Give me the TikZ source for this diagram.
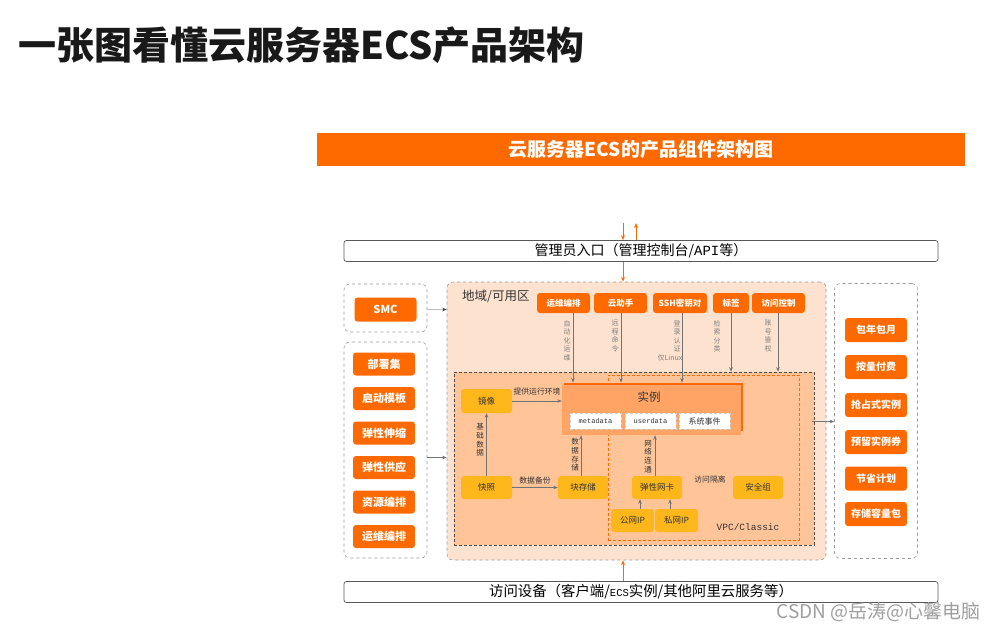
\documentclass[tikz,border=0pt]{standalone}
\usepackage{fontspec}
\setmainfont{Noto Sans CJK SC}
\setmonofont{Liberation Mono}
\usetikzlibrary{arrows.meta}
\definecolor{ora}{HTML}{FF6A00}
\definecolor{peach}{HTML}{FDE3CF}
\definecolor{innerp}{HTML}{FFC599}
\definecolor{instf}{HTML}{FFA464}
\definecolor{yel}{HTML}{FDB71A}
\definecolor{txt}{HTML}{333333}
\definecolor{lab}{HTML}{7F7F7F}
\tikzset{
  fs/.style={font=\fontsize{#1}{#1}\selectfont},
  obtn/.style={fill=ora, rounded corners=3, text=white, inner sep=0pt, font=\bfseries\fontsize{#1}{#1}\selectfont},
  ybox/.style={fill=yel, rounded corners=3, text=txt, inner sep=0pt, font=\fontsize{8.5}{8.5}\selectfont},
  dgroup/.style={draw=gray!80, dashed, rounded corners=6, line width=0.6pt},
  arr/.style={draw=gray!90!black, line width=0.6pt, -{Stealth[length=4.5pt,width=3.5pt]}},
  oarr/.style={draw=ora, line width=0.9pt, -{Stealth[length=5pt,width=4pt]}},
  vlab/.style={text=lab, align=center, inner sep=0pt, anchor=north, font=\fontsize{7}{8.5}\selectfont},
  elab/.style={text=txt, inner sep=0pt, font=\fontsize{7.8}{7.8}\selectfont},
  wbox/.style={fill=white, draw=gray!35, densely dashed, line width=0.4pt, inner sep=0pt, minimum width=51, minimum height=16},
}
\begin{document}
\begin{tikzpicture}[x=1pt,y=-1pt]
\useasboundingbox (0,0) rectangle (995,632);
\fill[white] (0,0) rectangle (995,632);

% title
\node[anchor=west, inner sep=0pt, font=\bfseries\fontsize{38}{38}\selectfont, text=black!90] (title) at (18,45.5) {一张图看懂云服务器ECS产品架构};

% banner
\node[fill=ora, minimum width=648, minimum height=33, inner sep=0pt, text=white, font=\bfseries\fontsize{19}{19}\selectfont] (banner) at (641,149.5) {云服务器ECS的产品组件架构图};

% admin box
\node[draw=gray!70!black, fill=white, rounded corners=2.5, line width=0.7pt, minimum width=594, minimum height=21, inner sep=0pt, fs=14] (admin) at (641,251) {管理员入口（管理控制台/{\ttfamily API}等）};
\coordinate (ta1) at (623,223);
\coordinate (ta2) at (636,223);
\draw[oarr] (ta1) -- (admin.north -| ta1);
\draw[oarr] (admin.north -| ta2) -- (ta2);

% region
\node[dgroup, fill=peach, minimum width=379, minimum height=278, inner sep=0pt] (region) at (636.5,421) {};
\node[anchor=west, inner sep=0pt, fs=12.5, text=txt] (regl) at (462,296) {地域/可用区};
\draw[oarr] (admin.south -| ta1) -- (region.north -| ta1);

% access box
\node[draw=gray!70!black, fill=white, rounded corners=2.5, line width=0.7pt, minimum width=594, minimum height=21, inner sep=0pt, fs=14.4] (access) at (641,592) {访问设备（客户端/{\ttfamily\fontsize{10.5}{10.5}\selectfont ECS}实例/其他阿里云服务等）};
\draw[oarr] (access.north -| ta1) -- (region.south -| ta1);

% SMC group
\node[dgroup, minimum width=83, minimum height=48, inner sep=0pt] (smcg) at (385.5,308) {};
\node[obtn=11, minimum width=62, minimum height=24] (smc) at (385.5,309.5) {SMC};
\draw[draw=gray!50, line width=0.9pt, -{Stealth[length=4.5pt,width=3.5pt,color=gray!50!black]}] (smcg.east |- smc) -- (region.west |- smc);

% left group
\node[dgroup, minimum width=83, minimum height=216, inner sep=0pt] (leftg) at (385.5,450) {};
\node[obtn=11, minimum width=62, minimum height=23] (l1) at (384,364) {部署集};
\node[obtn=11, minimum width=62, minimum height=23] (l2) at (384,398.5) {启动模板};
\node[obtn=11, minimum width=62, minimum height=23] (l3) at (384,433) {弹性伸缩};
\node[obtn=11, minimum width=62, minimum height=23] (l4) at (384,467.5) {弹性供应};
\node[obtn=11, minimum width=62, minimum height=23] (l5) at (384,502) {资源编排};
\node[obtn=11, minimum width=62, minimum height=23] (l6) at (384,536.5) {运维编排};
\coordinate (la) at (427,457.5);
\draw[arr] (la) -- (region.west |- la);

% right group
\node[dgroup, minimum width=83, minimum height=275, inner sep=0pt] (rightg) at (876,421) {};
\node[obtn=10, minimum width=62, minimum height=24] (r1) at (876,330) {包年包月};
\node[obtn=10, minimum width=62, minimum height=24] (r2) at (876,367) {按量付费};
\node[obtn=10, minimum width=62, minimum height=24] (r3) at (876,405) {抢占式实例};
\node[obtn=10, minimum width=62, minimum height=24] (r4) at (876,442) {预留实例券};
\node[obtn=10, minimum width=62, minimum height=24] (r5) at (876,478.5) {节省计划};
\node[obtn=10, minimum width=62, minimum height=24] (r6) at (876,514) {存储容量包};

% inner dashed box
\node[draw=gray!60!black, densely dashed, fill=innerp, line width=0.5pt, minimum width=360, minimum height=173, inner sep=0pt] (inner) at (634,458.5) {};
\coordinate (ra) at (812,421.5);
\draw[arr] (ra) -- (rightg.west |- ra);

% VPC box
\node[draw=ora, densely dashed, line width=0.5pt, minimum width=191, minimum height=165, inner sep=0pt] (vpc) at (703.5,457.5) {};
\node[anchor=center, inner sep=0pt, text=txt, font=\ttfamily\fontsize{9.5}{9.5}\selectfont] (vpcl) at (748,527) {VPC/Classic};

% top buttons
\node[obtn=8.5, minimum width=53, minimum height=20] (b1) at (563.5,303) {运维编排};
\node[obtn=8.5, minimum width=53, minimum height=20] (b2) at (620.5,303) {云助手};
\node[obtn=8.5, minimum width=54, minimum height=20] (b3) at (680,303) {SSH密钥对};
\node[obtn=8.5, minimum width=36, minimum height=20] (b4) at (731,303) {标签};
\node[obtn=8.5, minimum width=53, minimum height=20] (b5) at (778.5,303) {访问控制};

% instance
\node[fill=ora, minimum width=179, minimum height=48.5, inner sep=0pt] (instsh) at (653.5,407) {};
\node[fill=instf, minimum width=179, minimum height=50, inner sep=0pt] (inst) at (651.5,410) {};
\node[inner sep=0pt, text=txt, fs=11.5] (instl) at (649,397) {实例};
\node[wbox, font=\ttfamily\fontsize{7}{7}\selectfont, text=txt] (md) at (595.5,421) {metadata};
\node[wbox, font=\ttfamily\fontsize{7}{7}\selectfont, text=txt] (ud) at (650.5,421) {userdata};
\node[wbox, fs=8, text=txt] (se) at (704.5,421) {系统事件};

% arrows from top buttons
\foreach \b/\x in {b1/573,b2/621,b3/682}{
  \draw[arr] (\b.south -| \x,0) -- (instsh.north -| \x,0);
}
\foreach \b/\x in {b4/731,b5/778}{
  \draw[arr] (\b.south -| \x,0) -- (inner.north -| \x,0);
}
\node[vlab] (v1) at (567,320) {自\\动\\化\\运\\维};
\node[vlab] (v2) at (615,320) {远\\程\\命\\令};
\node[vlab] (v3) at (670,320) {\hspace*{14pt}登\\\hspace*{14pt}录\\\hspace*{14pt}认\\\hspace*{14pt}证\\仅Linux};
\node[vlab] (v4) at (717,320) {检\\索\\分\\类};
\node[vlab] (v5) at (768,320) {账\\号\\鉴\\权};

% yellow boxes
\node[ybox, minimum width=51, minimum height=24] (img) at (486.5,401) {镜像};
\node[ybox, minimum width=51, minimum height=23] (snap) at (486.5,487.5) {快照};
\node[ybox, minimum width=50, minimum height=23] (blk) at (583,487.5) {块存储};
\node[ybox, minimum width=50, minimum height=23] (eni) at (657,487.5) {弹性网卡};
\node[ybox, minimum width=50, minimum height=23] (sg) at (758,487.5) {安全组};
\node[ybox, minimum width=43, minimum height=23] (pub) at (632.5,520.5) {公网IP};
\node[ybox, minimum width=43, minimum height=23] (pri) at (676.5,520.5) {私网IP};

% inner arrows
\draw[arr] (img.east) -- (inst.west |- img.east);
\node[elab, anchor=south] (l_env) at (537,395) {提供运行环境};
\draw[arr] (snap.north) -- (img.south);
\node[vlab, text=txt, font=\fontsize{7.5}{8.75}\selectfont] (v6) at (480,423) {基\\础\\数\\据};
\draw[arr] (snap.east) -- (blk.west);
\node[elab, anchor=south] (l_bak) at (535,484) {数据备份};
\draw[arr] (blk.north -| 581,0) -- (inst.south -| 581,0);
\node[vlab, text=txt, font=\fontsize{7.5}{8.75}\selectfont] (v7) at (575,438) {数\\据\\存\\储};
\draw[arr] (eni.north -| 655,0) -- (inst.south -| 655,0);
\node[vlab, text=txt, font=\fontsize{7.5}{8.75}\selectfont] (v8) at (648,440) {网\\络\\连\\通};
\draw[arr] (pub.north -| 640,0) -- (eni.south -| 640,0);
\draw[arr] (pri.north -| 670,0) -- (eni.south -| 670,0);
\node[elab] (l_iso) at (710,480) {访问隔离};

% watermark
\node[anchor=east, inner sep=0pt, text=gray!75, fs=19] (wm) at (981,612) {CSDN @岳涛@心馨电脑};
\end{tikzpicture}
\end{document}
